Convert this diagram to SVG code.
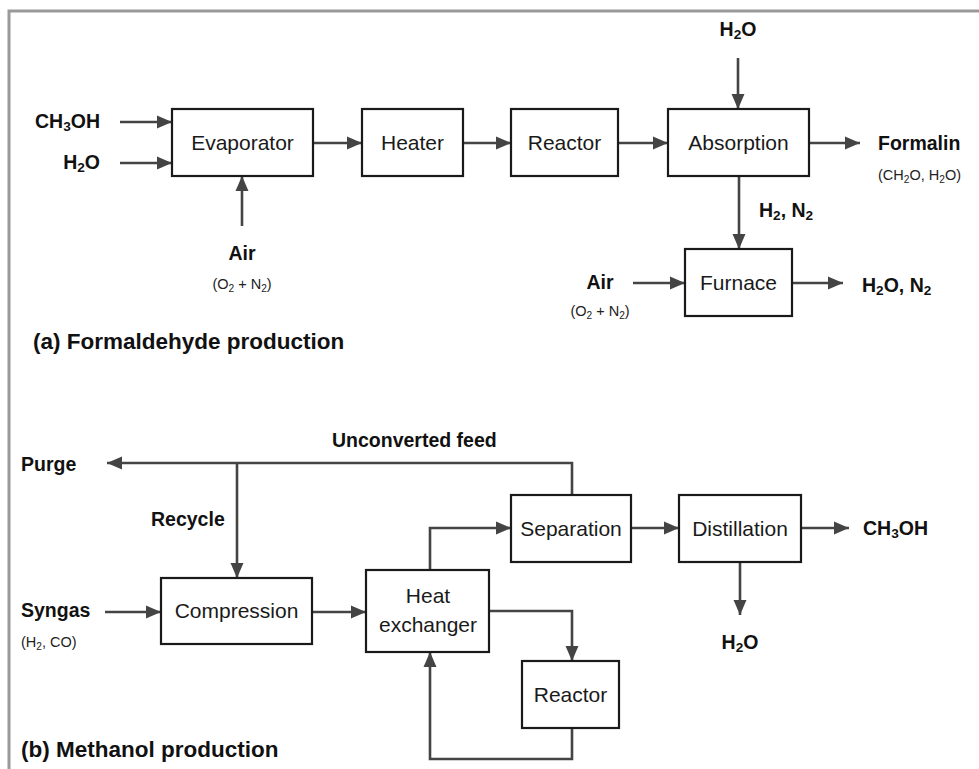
<svg xmlns="http://www.w3.org/2000/svg" width="979" height="769" viewBox="0 0 979 769">
<defs>
<marker id="ah" markerUnits="userSpaceOnUse" markerWidth="16" markerHeight="14" refX="15" refY="7" orient="auto">
<path d="M0,0.5 L15,7 L0,13.5 z" fill="#444"/>
</marker>
<style>
.box{fill:#fff;stroke:#1a1a1a;stroke-width:2.2}
.lbl{font-family:"Liberation Sans",Arial,sans-serif;font-size:21px;fill:#1a1a1a;text-anchor:middle}
.b{font-family:"Liberation Sans",Arial,sans-serif;font-size:19.5px;font-weight:bold;fill:#111}
.s{font-family:"Liberation Sans",Arial,sans-serif;font-size:14.5px;fill:#222}
.t{font-family:"Liberation Sans",Arial,sans-serif;font-size:22.5px;font-weight:bold;fill:#111}
.c{text-anchor:middle}
.e{text-anchor:end}
.sub{font-size:70%;baseline-shift:-3px}
.con path{fill:none;stroke:#444;stroke-width:2.6}
.arr{marker-end:url(#ah)}
</style>
</defs>
<rect width="979" height="769" fill="#fff"/>
<path d="M9,769 V11 H979" fill="none" stroke="#9a9a9a" stroke-width="3"/>

<g id="connectors" class="con">
<path class="arr" d="M120,122 H172"/>
<path class="arr" d="M120,163 H172"/>
<path class="arr" d="M242,226 V176"/>
<path class="arr" d="M313,143 H362"/>
<path class="arr" d="M463,143 H511"/>
<path class="arr" d="M618,143 H668"/>
<path class="arr" d="M738,58 V109"/>
<path class="arr" d="M809,143 H860"/>
<path class="arr" d="M739,176 V249"/>
<path class="arr" d="M633,283 H685"/>
<path class="arr" d="M792,283 H843"/>
<path class="arr" d="M572,495 V463 H107"/>
<path class="arr" d="M237,463 V578"/>
<path class="arr" d="M105,612 H161"/>
<path class="arr" d="M312,612 H366"/>
<path class="arr" d="M430,570 V528 H511"/>
<path class="arr" d="M631,528 H679"/>
<path class="arr" d="M801,528 H849"/>
<path class="arr" d="M740,562 V615"/>
<path class="arr" d="M489,611 H572 V661"/>
<path class="arr" d="M572,728 V759 H430 V652"/>
</g>

<g id="evaporator"><rect class="box" x="172" y="109" width="141" height="67"/><text class="lbl" x="242.5" y="150">Evaporator</text></g>
<g id="heater"><rect class="box" x="362" y="109" width="101" height="67"/><text class="lbl" x="412.5" y="150">Heater</text></g>
<g id="reactor-a"><rect class="box" x="511" y="109" width="107" height="67"/><text class="lbl" x="564.5" y="150">Reactor</text></g>
<g id="absorption"><rect class="box" x="668" y="109" width="141" height="67"/><text class="lbl" x="738.5" y="150">Absorption</text></g>
<g id="furnace"><rect class="box" x="685" y="249" width="107" height="67"/><text class="lbl" x="738.5" y="290">Furnace</text></g>

<g id="compression"><rect class="box" x="161" y="578" width="151" height="66"/><text class="lbl" x="236.5" y="618">Compression</text></g>
<g id="heat-exchanger"><rect class="box" x="366" y="570" width="123" height="82"/><text class="lbl" x="428" y="603">Heat</text><text class="lbl" x="428" y="632">exchanger</text></g>
<g id="separation"><rect class="box" x="511" y="495" width="120" height="67"/><text class="lbl" x="571" y="536">Separation</text></g>
<g id="distillation"><rect class="box" x="679" y="495" width="122" height="67"/><text class="lbl" x="740" y="536">Distillation</text></g>
<g id="reactor-b"><rect class="box" x="522" y="661" width="97" height="67"/><text class="lbl" x="570.5" y="702">Reactor</text></g>

<g id="labels">
<text class="b e" x="100" y="128">CH<tspan class="sub">3</tspan>OH</text>
<text class="b e" x="100" y="169">H<tspan class="sub">2</tspan>O</text>
<text class="b c" x="242" y="260">Air</text>
<text class="s c" x="242" y="289">(O<tspan class="sub">2</tspan> + N<tspan class="sub">2</tspan>)</text>
<text class="b c" x="738" y="36">H<tspan class="sub">2</tspan>O</text>
<text class="b" x="878" y="150">Formalin</text>
<text class="s" x="878" y="180">(CH<tspan class="sub">2</tspan>O, H<tspan class="sub">2</tspan>O)</text>
<text class="b" x="759" y="217">H<tspan class="sub">2</tspan>, N<tspan class="sub">2</tspan></text>
<text class="b c" x="600" y="289">Air</text>
<text class="s c" x="600" y="316">(O<tspan class="sub">2</tspan> + N<tspan class="sub">2</tspan>)</text>
<text class="b" x="862" y="292">H<tspan class="sub">2</tspan>O, N<tspan class="sub">2</tspan></text>
<text class="t" x="33" y="349">(a) Formaldehyde production</text>

<text class="b" x="21" y="471">Purge</text>
<text class="b" x="332" y="447">Unconverted feed</text>
<text class="b" x="151" y="526">Recycle</text>
<text class="b" x="21" y="617">Syngas</text>
<text class="s" x="21" y="647">(H<tspan class="sub">2</tspan>, CO)</text>
<text class="b" x="863" y="535">CH<tspan class="sub">3</tspan>OH</text>
<text class="b c" x="740" y="649">H<tspan class="sub">2</tspan>O</text>
<text class="t" x="21" y="757">(b) Methanol production</text>
</g>
</svg>
